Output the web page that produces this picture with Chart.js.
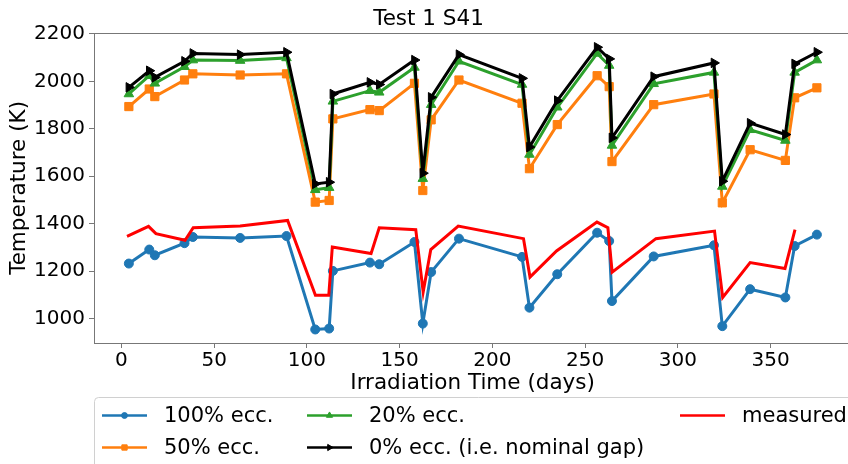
<!DOCTYPE html>
<html>
<head>
<meta charset="utf-8">
<script src="https://cdn.jsdelivr.net/npm/chart.js@4"></script>
<style>
    html, body { margin: 0; padding: 0; overflow: hidden; background: #fff; }
    #wrap { width: 858px; height: 464px; }
</style>
</head>
<body>
<div id="wrap"><canvas id="myChart" width="858" height="464"></canvas></div>
<script>
"use strict";

// irradiation days of the model points
const modelDays = [4, 15, 18, 34, 38.5, 64, 89, 104.5, 112, 114, 134, 139, 158, 162.5, 167, 182,
    216, 220, 235, 256.5, 263, 264.5, 287, 319.5, 324, 339, 358, 363, 375];
const measuredDays = [3, 14.6, 18.6, 34.3, 38.7, 64, 89.6, 104.6, 111.8, 113.7, 134.6, 139, 158.7, 162.7,
    166.8, 181.6, 216.8, 220.3, 234.6, 256.4, 262.3, 264.6, 288.2, 319.8, 324.2, 339, 357.8, 363.2];

const ecc100 = [1232, 1291, 1267, 1318, 1344, 1340, 1348, 954, 958, 1201, 1236, 1229, 1323, 979, 1196, 1337,
    1260, 1046, 1187, 1362, 1327, 1074, 1262, 1309, 968, 1124, 1089, 1306, 1354];
const ecc50 = [1894, 1968, 1936, 2006, 2032, 2027, 2032, 1491, 1498, 1842, 1881, 1877, 1992, 1540, 1838, 2006,
    1908, 1632, 1818, 2024, 1978, 1662, 1902, 1947, 1488, 1712, 1667, 1931, 1973];
const ecc20 = [1947, 2024, 1992, 2062, 2090, 2088, 2099, 1543, 1552, 1916, 1961, 1954, 2059, 1590, 1902, 2085,
    1987, 1692, 1891, 2118, 2067, 1730, 1990, 2038, 1557, 1796, 1751, 2038, 2090];
const ecc0 = [1975, 2045, 2017, 2085, 2118, 2113, 2123, 1568, 1575, 1947, 1996, 1987, 2090, 1613, 1933, 2113,
    2013, 1723, 1919, 2144, 2095, 1762, 2020, 2078, 1579, 1824, 1776, 2074, 2123];
const measured = [1347, 1389, 1358, 1330, 1383, 1390, 1414, 1098, 1098, 1302, 1274, 1383, 1375, 1112, 1291,
    1390, 1337, 1175, 1285, 1407, 1383, 1196, 1337, 1369, 1089, 1236, 1211, 1375];

const seriesLabels = ['100% ecc.', '50% ecc.', '20% ecc.', '0% ecc. (i.e. nominal gap)', 'measured'];

const FONT = '"DejaVu Sans", "Liberation Sans", sans-serif';

function toPoints(xs, ys) {
    return ys.map((y, i) => ({ x: xs[i], y: y }));
}

function series(label, xs, ys, color, style, radius, rotation, order) {
    return {
        label: label,
        data: toPoints(xs, ys),
        borderColor: color,
        backgroundColor: color,
        borderWidth: 3,
        pointStyle: style,
        pointRadius: radius,
        pointRotation: rotation,
        pointBorderWidth: 1,
        pointBorderColor: color,
        pointBackgroundColor: color,
        tension: 0,
        order: order
    };
}

// matplotlib-like box with top spine
const framePlugin = {
    id: 'frame',
    afterDatasetsDraw(chart) {
        const { ctx, chartArea: a } = chart;
        ctx.save();
        ctx.strokeStyle = '#777';
        ctx.lineWidth = 1;
        ctx.strokeRect(Math.round(a.left) + 0.5, Math.round(a.top) + 0.5,
            Math.round(a.right - a.left), Math.round(a.bottom - a.top));
        ctx.restore();
    }
};

// three column legend below the axes
const legendPlugin = {
    id: 'boxLegend',
    afterDraw(chart) {
        const ctx = chart.ctx;
        const slots = [
            [102, 415.5], [102, 447.5], [307, 415.5], [307, 447.5], [680, 415.5]
        ];
        ctx.save();
        ctx.beginPath();
        ctx.roundRect(94.5, 397.5, 800, 90, 4);
        ctx.fillStyle = 'rgba(255,255,255,0.8)';
        ctx.fill();
        ctx.strokeStyle = '#d0d0d0';
        ctx.lineWidth = 1;
        ctx.stroke();

        chart.data.datasets.forEach((ds, i) => {
            const [x0, y] = slots[i];
            ctx.strokeStyle = ds.borderColor;
            ctx.lineWidth = 2.6;
            ctx.beginPath();
            ctx.moveTo(x0, y);
            ctx.lineTo(x0 + 45, y);
            ctx.stroke();
            if (ds.pointRadius > 0) {
                ctx.fillStyle = ds.borderColor;
                ctx.lineWidth = 1;
                Chart.helpers.drawPoint(ctx, {
                    pointStyle: ds.pointStyle,
                    radius: ds.pointRadius * 0.65,
                    rotation: ds.pointRotation,
                    borderWidth: 1
                }, x0 + 22.5, y);
            }
            ctx.fillStyle = '#000';
            ctx.font = '21px ' + FONT;
            ctx.textBaseline = 'middle';
            ctx.textAlign = 'left';
            ctx.fillText(ds.label, x0 + 62, y + 1);
        });
        ctx.restore();
    }
};

function CreateChart() {
    const ctx = document.getElementById('myChart').getContext('2d');
    new Chart(ctx, {
        type: 'line',
        data: {
            datasets: [
                series(seriesLabels[0], modelDays, ecc100, '#1f77b4', 'circle', 4.5, 0, 5),
                series(seriesLabels[1], modelDays, ecc50, '#ff7f0e', 'rect', 5.8, 0, 4),
                series(seriesLabels[2], modelDays, ecc20, '#2ca02c', 'triangle', 5.5, 0, 3),
                series(seriesLabels[3], modelDays, ecc0, '#000000', 'triangle', 5.5, 90, 2),
                series(seriesLabels[4], measuredDays, measured, '#ff0000', 'circle', 0, 0, 1)
            ]
        },
        options: {
            responsive: false,
            animation: false,
            layout: { padding: { left: 0, right: 1, top: 0, bottom: 68 } },
            plugins: {
                legend: { display: false },
                tooltip: { enabled: false },
                title: {
                    display: true,
                    text: 'Test 1 S41',
                    color: '#000',
                    font: { family: FONT, size: 21.5, weight: 'normal' },
                    padding: { top: 7, bottom: 0 }
                }
            },
            scales: {
                x: {
                    type: 'linear',
                    min: -14.8,
                    max: 393.5,
                    afterFit: s => { s.height = 53; },
                    border: { display: false },
                    grid: { drawOnChartArea: false, drawTicks: true, tickLength: 5, color: '#777' },
                    ticks: {
                        stepSize: 50,
                        includeBounds: false,
                        maxRotation: 0,
                        padding: 1,
                        color: '#000',
                        font: { family: FONT, size: 20 },
                        callback: v => String(v)
                    },
                    title: {
                        display: true,
                        text: 'Irradiation Time (days)',
                        color: '#000',
                        font: { family: FONT, size: 21.5 },
                        padding: { top: 0, bottom: 0 }
                    }
                },
                y: {
                    min: 897,
                    max: 2205,
                    afterFit: s => { s.width = 94; },
                    border: { display: false },
                    grid: { drawOnChartArea: false, drawTicks: true, tickLength: 5, color: '#777' },
                    ticks: {
                        stepSize: 200,
                        includeBounds: false,
                        padding: 4,
                        color: '#000',
                        font: { family: FONT, size: 20 },
                        callback: v => String(v)
                    },
                    title: {
                        display: true,
                        text: 'Temperature (K)',
                        color: '#000',
                        font: { family: FONT, size: 21.5 },
                        padding: { top: 7, bottom: 0 }
                    }
                }
            }
        },
        plugins: [framePlugin, legendPlugin]
    });
}

window.addEventListener('load', () => {
    CreateChart();
});
</script>
</body>
</html>
